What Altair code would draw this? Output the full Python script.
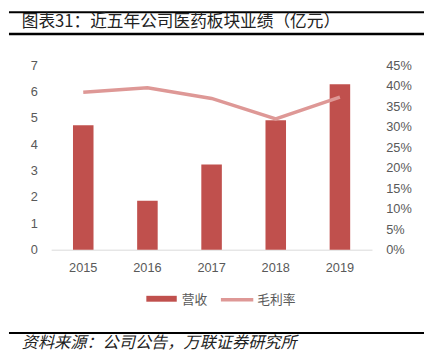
import altair as alt
import pandas as pd

years = ["2015", "2016", "2017", "2018", "2019"]
revenue = [4.72, 1.86, 3.23, 4.91, 6.28]
margin = [0.384, 0.395, 0.369, 0.319, 0.372]

title_text = "图表31：近五年公司医药板块业绩（亿元）"
source_text = "资料来源：公司公告，万联证券研究所"
legend_labels = ["营收", "毛利率"]

BAR = "#C0504D"
LINE = "#DE9896"
GREY = "#595959"
FONT = "Noto Sans CJK SC"

df = pd.DataFrame({"year": years, "revenue": revenue, "margin": margin})

x = alt.X("year:N", title=None, sort=years,
          scale=alt.Scale(paddingInner=0.68, paddingOuter=0.34),
          axis=alt.Axis(labelAngle=0, labelColor=GREY, labelFontSize=13, labelFont="Liberation Sans",
                        ticks=False, domainColor="#D9D9D9", domainWidth=1, labelPadding=12))

bars = alt.Chart(df).mark_bar(color=BAR).encode(
    x=x,
    y=alt.Y("revenue:Q", title=None, scale=alt.Scale(domain=[0, 7]),
            axis=alt.Axis(values=list(range(8)), grid=False, domain=False, ticks=False,
                          labelColor=GREY, labelFontSize=13, labelFont="Liberation Sans",
                          labelPadding=14, orient="left")),
)

line = alt.Chart(df).mark_line(color=LINE, strokeWidth=3.5).encode(
    x=x,
    y=alt.Y("margin:Q", title=None, scale=alt.Scale(domain=[0, 0.45]),
            axis=alt.Axis(values=[i * 0.05 for i in range(10)], format=".0%", grid=False,
                          domain=False, ticks=False, labelColor=GREY, labelFontSize=13,
                          labelFont="Liberation Sans", labelPadding=14, orient="right",
                          labelAlign="left")),
)

main = alt.layer(bars, line).resolve_scale(y="independent")

# decorative rules (pixel offsets from the plot origin)
rules = pd.DataFrame({"y0": [-55, -33, 272], "y1": [-53, -30.5, 274]})
rule_marks = alt.Chart(rules).mark_rect(color="#000").encode(
    x=alt.value(-43), x2=alt.value(380),
    y=alt.Y("y0:Q", scale=None), y2="y1:Q")

one = pd.DataFrame({"a": [0]})
title = alt.Chart(one).mark_text(text=title_text, align="left", baseline="alphabetic",
                                 fontSize=17, font=FONT, color="#222").encode(
    x=alt.value(-30), y=alt.value(-39))
source = alt.Chart(one).mark_text(text=source_text, align="left", baseline="alphabetic",
                                  fontSize=16.5, font=FONT, fontStyle="italic", color="#222").encode(
    x=alt.value(-30), y=alt.value(288))
leg_bar = alt.Chart(one).mark_rect(color=BAR).encode(
    x=alt.value(97), x2=alt.value(128), y=alt.value(235), y2=alt.value(241))
leg_line = alt.Chart(one).mark_rule(color=LINE, strokeWidth=3.5).encode(
    x=alt.value(173), x2=alt.value(206), y=alt.value(239))
leg_t1 = alt.Chart(one).mark_text(text=legend_labels[0], align="left", baseline="middle",
                                  fontSize=13, font=FONT, color=GREY).encode(
    x=alt.value(133), y=alt.value(239))
leg_t2 = alt.Chart(one).mark_text(text=legend_labels[1], align="left", baseline="middle",
                                  fontSize=13, font=FONT, color=GREY).encode(
    x=alt.value(210), y=alt.value(239))

chart = alt.layer(rule_marks, main, title, source,
                  leg_bar, leg_line, leg_t1, leg_t2).properties(
    width=327, height=188,
    autosize=alt.AutoSizeParams(type="none"),
    padding={"left": 44, "top": 55, "right": 53, "bottom": 105},
).configure_view(stroke=None)

chart.save("out.html", embed_options={"renderer": "svg", "actions": False})
